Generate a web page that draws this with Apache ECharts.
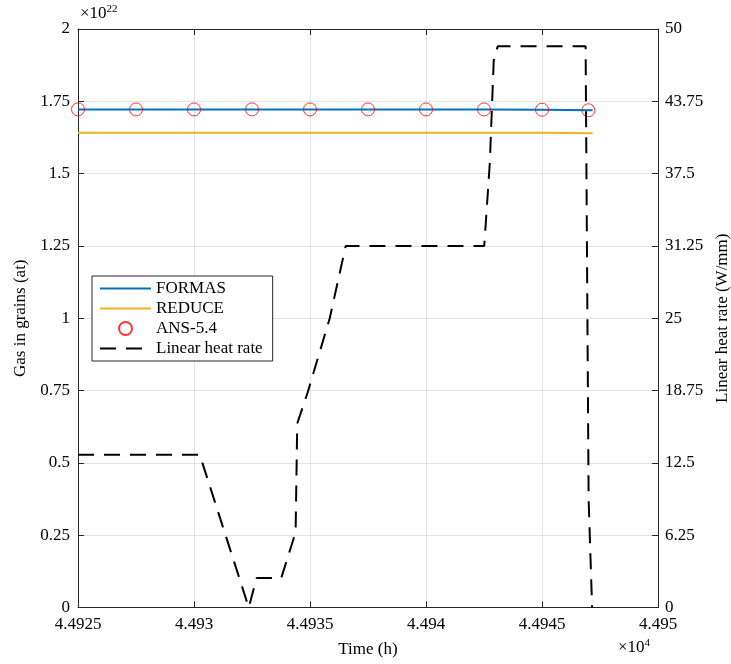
<!DOCTYPE html>
<html>
<head>
<meta charset="utf-8">
<script src="https://cdn.jsdelivr.net/npm/echarts@6/dist/echarts.min.js"></script>
<style>
html,body{margin:0;padding:0;background:#fff;}
#chart{width:731px;height:664px;}
</style>
</head>
<body>
<div id="chart"></div>
<script>
// ---- data (gas values in units of 1e22 at; time in hours) ----
const formasTime = [44925, 44930, 44935, 44940, 44942.5, 44945, 44947.18];
const formasGas  = [1.722, 1.722, 1.722, 1.722, 1.7218, 1.7205, 1.719];

const reduceTime = [44925, 44930, 44935, 44940, 44945, 44947.18];
const reduceGas  = [1.641, 1.641, 1.641, 1.641, 1.641, 1.640];

const ansTime = [44925, 44927.5, 44930, 44932.5, 44935, 44937.5, 44940, 44942.5, 44945, 44947];
const ansGas  = [1.722, 1.722, 1.722, 1.722, 1.722, 1.722, 1.722, 1.722, 1.721, 1.719];

const heatTime = [44925, 44930.25, 44932.36, 44932.70, 44933.76, 44934.38, 44934.45, 44934.90, 44935.85, 44936.54, 44942.51, 44942.75, 44942.92, 44943.09, 44946.88, 44947.01, 44947.16];
const heatRate = [13.2, 13.2, 0, 2.55, 2.55, 6.5, 15.9, 18.6, 25.0, 31.25, 31.25, 38.4, 47.3, 48.5, 48.5, 9.3, 0];

const xTicks = [44925, 44930, 44935, 44940, 44945, 44950];
const leftTicks = [0, 0.25, 0.5, 0.75, 1, 1.25, 1.5, 1.75, 2];
const rightTicks = [0, 6.25, 12.5, 18.75, 25, 31.25, 37.5, 43.75, 50];

const pairs = (xs, ys) => xs.map((x, i) => [x, ys[i]]);

const FONT = '"Liberation Serif", "DejaVu Serif", serif';
const AX = '#262626';
const GRID = '#e3e3e3';

const chart = echarts.init(document.getElementById('chart'), null, {renderer: 'canvas'});

const option = {
  animation: false,
  backgroundColor: '#ffffff',
  textStyle: {fontFamily: FONT},
  grid: {left: 78, right: 73, top: 29, bottom: 56.5, containLabel: false, outerBoundsMode: 'none'},
  legend: {
    orient: 'vertical',
    left: 92, top: 276,
    backgroundColor: '#ffffff',
    borderColor: AX, borderWidth: 1,
    padding: [3, 10, 3, 7],
    itemWidth: 51, itemHeight: 13, itemGap: 1,
    textStyle: {fontFamily: FONT, fontSize: 17, color: '#000', lineHeight: 19},
    data: [
      {name: 'FORMAS', itemStyle: {opacity: 0}},
      {name: 'REDUCE', itemStyle: {opacity: 0}},
      {name: 'ANS-5.4'},
      {name: 'Linear heat rate', itemStyle: {opacity: 0}}
    ]
  },
  xAxis: [{
    type: 'value', position: 'bottom',
    min: xTicks[0], max: xTicks[xTicks.length - 1], interval: 5,
    name: 'Time (h)', nameLocation: 'middle', nameGap: 34,
    nameTextStyle: {fontFamily: FONT, fontSize: 17, color: '#000'},
    axisLine: {show: true, onZero: false, lineStyle: {color: AX, width: 1}},
    axisTick: {show: true, inside: true, length: 6, lineStyle: {color: AX}},
    axisLabel: {fontFamily: FONT, fontSize: 17, color: '#000', margin: 9,
      formatter: v => parseFloat((v / 1e4).toFixed(4)).toString()},
    splitLine: {show: true, lineStyle: {color: GRID, width: 1}}
  }, {
    type: 'value', position: 'top',
    min: xTicks[0], max: xTicks[xTicks.length - 1], interval: 5,
    axisLine: {show: true, onZero: false, lineStyle: {color: AX, width: 1}},
    axisTick: {show: true, inside: true, length: 6, lineStyle: {color: AX}},
    axisLabel: {show: false},
    splitLine: {show: false}
  }],
  yAxis: [{
    type: 'value', position: 'left',
    min: 0, max: 2, interval: 0.25,
    name: 'Gas in grains (at)', nameLocation: 'middle', nameGap: 44, nameRotate: 90,
    nameTextStyle: {fontFamily: FONT, fontSize: 17, color: '#000'},
    axisLine: {show: true, onZero: false, lineStyle: {color: AX, width: 1}},
    axisTick: {show: true, inside: true, length: 6, lineStyle: {color: AX}},
    axisLabel: {fontFamily: FONT, fontSize: 17, color: '#000', margin: 8,
      formatter: v => parseFloat(v.toFixed(2)).toString()},
    splitLine: {show: true, lineStyle: {color: GRID, width: 1}}
  }, {
    type: 'value', position: 'right',
    min: 0, max: 50, interval: 6.25,
    name: 'Linear heat rate (W/mm)', nameLocation: 'middle', nameGap: 53, nameRotate: 90,
    nameTextStyle: {fontFamily: FONT, fontSize: 17, color: '#000'},
    axisLine: {show: true, onZero: false, lineStyle: {color: AX, width: 1}},
    axisTick: {show: true, inside: true, length: 6, lineStyle: {color: AX}},
    axisLabel: {fontFamily: FONT, fontSize: 17, color: '#000', margin: 7,
      formatter: v => parseFloat(v.toFixed(2)).toString()},
    splitLine: {show: false}
  }],
  series: [{
    name: 'FORMAS', type: 'line', xAxisIndex: 0, yAxisIndex: 0,
    data: pairs(formasTime, formasGas),
    symbol: 'none', z: 2,
    itemStyle: {color: '#0072BD'},
    lineStyle: {color: '#0072BD', width: 2}
  }, {
    name: 'REDUCE', type: 'line', xAxisIndex: 0, yAxisIndex: 0,
    data: pairs(reduceTime, reduceGas),
    symbol: 'none', z: 2,
    itemStyle: {color: '#EDB120'},
    lineStyle: {color: '#EDB120', width: 2}
  }, {
    name: 'ANS-5.4', type: 'scatter', xAxisIndex: 0, yAxisIndex: 0,
    data: pairs(ansTime, ansGas),
    symbol: 'circle', symbolSize: 13, z: 3,
    itemStyle: {color: 'rgba(255,255,255,0)', borderColor: '#FF0000', borderWidth: 1}
  }, {
    name: 'Linear heat rate', type: 'line', xAxisIndex: 0, yAxisIndex: 1,
    data: pairs(heatTime, heatRate),
    symbol: 'none', z: 4,
    itemStyle: {color: '#000000'},
    lineStyle: {color: '#000000', width: 2, type: [16, 10]}
  }],
  graphic: [{
    type: 'text', left: 80, top: 4,
    style: {
      text: '{a|×10}{s|22}',
      rich: {
        a: {fontFamily: FONT, fontSize: 17, fill: '#000'},
        s: {fontFamily: FONT, fontSize: 11, fill: '#000', padding: [0, 0, 9, 0]}
      }
    }
  }, {
    type: 'text', left: 618, top: 638,
    style: {
      text: '{a|×10}{s|4}',
      rich: {
        a: {fontFamily: FONT, fontSize: 17, fill: '#000'},
        s: {fontFamily: FONT, fontSize: 11, fill: '#000', padding: [0, 0, 9, 0]}
      }
    }
  }]
};
chart.setOption(option);
</script>
</body>
</html>
